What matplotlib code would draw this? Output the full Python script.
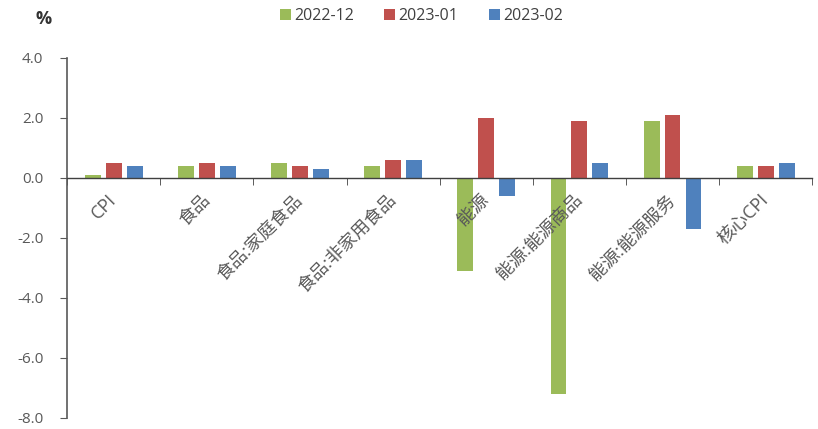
import numpy as np
import matplotlib
matplotlib.use('Agg')
import matplotlib.pyplot as plt
from matplotlib.ticker import FormatStrFormatter, FixedLocator

# Latin text in Open Sans, CJK glyphs fall back to Noto Sans CJK
plt.rcParams['font.family'] = ['Open Sans', 'Noto Sans CJK SC', 'DejaVu Sans']
plt.rcParams['axes.unicode_minus'] = False

# data (month-on-month change, %)
categories = ['CPI', '食品', '食品:家庭食品', '食品:非家用食品',
              '能源', '能源:能源商品', '能源:能源服务', '核心CPI']
series_names = ['2022-12', '2023-01', '2023-02']
vals_2212 = [0.1, 0.4, 0.5, 0.4, -3.1, -7.2, 1.9, 0.4]
vals_2301 = [0.5, 0.5, 0.4, 0.6, 2.0, 1.9, 2.1, 0.4]
vals_2302 = [0.4, 0.4, 0.3, 0.6, -0.6, 0.5, -1.7, 0.5]
colors = ['#9BBB59', '#C0504D', '#4F81BD']

fig = plt.figure(figsize=(8.18, 4.29), dpi=100)
ax = fig.add_axes([0.082, 0.026, 0.911, 0.839])

x = np.arange(len(categories))
bw = 0.17
step = 0.225
# bars stay below the axis artists so the category labels sit on top
for k, (vals, name, c) in enumerate(zip([vals_2212, vals_2301, vals_2302], series_names, colors)):
    ax.bar(x + (k - 1) * step, vals, width=bw, color=c, label=name, zorder=1)

ax.set_xlim(-0.5, len(categories) - 0.5)
ax.set_ylim(-8, 4)
ax.set_yticks(np.arange(-8, 4.1, 2))
ax.yaxis.set_major_formatter(FormatStrFormatter('%.1f'))

# axis lines
for s in ['top', 'right']:
    ax.spines[s].set_visible(False)
ax.spines['bottom'].set_position(('data', 0))
ax.spines['bottom'].set_color('#404040')
ax.spines['left'].set_color('#595959')
ax.spines['left'].set_linewidth(1.2)
ax.spines['bottom'].set_linewidth(1.0)

# category labels at centres, tick marks at boundaries
ax.set_xticks(x)
ax.set_xticklabels(categories, rotation=45, ha='right', va='center',
                   rotation_mode='anchor', fontsize=13, color='#595959')
ax.tick_params(axis='x', which='major', length=0, pad=14)
ax.xaxis.set_minor_locator(FixedLocator(np.arange(-0.5, len(categories), 1.0)))
ax.tick_params(axis='x', which='minor', length=5, direction='out', color='#404040')
ax.tick_params(axis='y', length=5, direction='out', color='#595959', pad=12,
               labelsize=11, labelcolor='#595959')

fig.text(0.044, 0.955, '%', fontsize=13, color='#333333', fontweight='bold',
         ha='left', va='center')

fig.legend(loc='center', bbox_to_anchor=(0.515, 0.962), ncol=3, frameon=False,
           fontsize=11.5, handlelength=0.7, handleheight=0.7, handletextpad=0.2,
           columnspacing=1.9, labelcolor='#404040')

fig.savefig('out.png', dpi=100)
